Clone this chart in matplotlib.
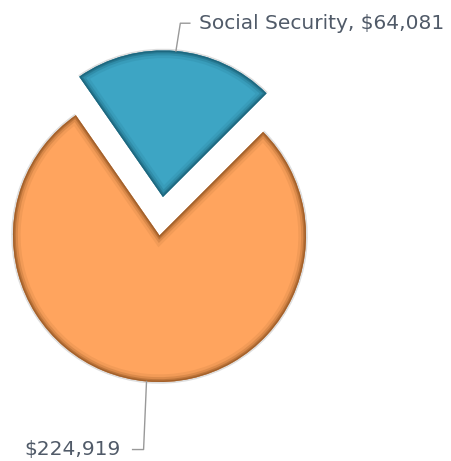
import numpy as np
import matplotlib.pyplot as plt
from matplotlib.patches import Wedge

# Дані
labels = ['Social Security, $64,081', '$224,919']
values = [64081, 224919]
colors = ['#3da5c4', '#ffa45e']
rim_colors = ['#1a6178', '#9a5a26']
explode = [0.264, 0]

fig = plt.figure(figsize=(4.51, 4.61), dpi=100)
ax = fig.add_axes([0, 0, 1, 1])

wedges, _ = ax.pie(values, colors=colors, explode=explode, startangle=45,
                   counterclock=True, wedgeprops=dict(linewidth=0))

# Тінь і затемнений край
for w, rc in zip(wedges, rim_colors):
    sh = Wedge(w.center, w.r * 1.012, w.theta1, w.theta2, facecolor='#c8c8c8',
               edgecolor='none', alpha=0.6, zorder=0)
    ax.add_patch(sh)
    for lw, a in [(11, 0.12), (7, 0.25), (4, 0.45), (2, 0.75)]:
        rim = Wedge(w.center, w.r, w.theta1, w.theta2, facecolor='none',
                    edgecolor=rc, linewidth=lw, alpha=a, zorder=3)
        ax.add_patch(rim)
        rim.set_clip_path(w)

# Підписи з лініями-виносками
for w, lab, side in zip(wedges, labels, [1, -1]):
    mid = np.deg2rad((w.theta1 + w.theta2) / 2)
    cx, cy = w.center
    x0, y0 = cx + np.cos(mid), cy + np.sin(mid)
    if side == 1:
        x1, y1 = x0 + 0.03, y0 + 0.19
        x2 = x1 + 0.065
        tx = x2 + 0.06
        ha = 'left'
    else:
        x1, y1 = x0 - 0.02, y0 - 0.465
        x2 = x1 - 0.075
        tx = x2 - 0.08
        ha = 'right'
    ax.plot([x0, x1, x2], [y0, y1, y1], color='#999999', linewidth=1, zorder=4)
    ax.text(tx, y1, lab, ha=ha, va='center', fontsize=14.5, color='#505a68',
            fontfamily='DejaVu Sans')

# Межі осей: 146.5 px на одиницю, центр пирога в (159.5, 225.5)
s = 146.5
ax.set_xlim(-159.5 / s, (451 - 159.5) / s)
ax.set_ylim(-225.5 / s, (461 - 225.5) / s)
ax.set_aspect('auto')
ax.axis('off')

fig.savefig('out.png', dpi=100)
